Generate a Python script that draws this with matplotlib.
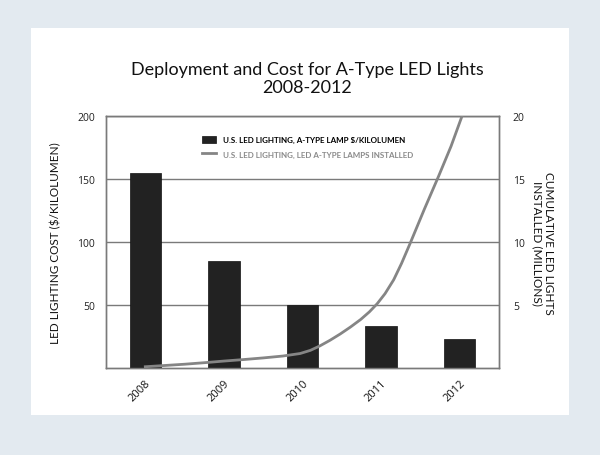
import matplotlib
matplotlib.use("Agg")
from matplotlib import pyplot as plt
from matplotlib.patches import Rectangle

years = ["2008", "2009", "2010", "2011", "2012"]
cost = [155, 85, 50, 33, 23]

# cumulative installs (millions) (x in year index)
curve_x = [0, 0.25, 0.5, 0.75, 1, 1.25, 1.5, 1.75, 1.97, 2.1, 2.22, 2.35, 2.48,
           2.61, 2.74, 2.85, 2.95, 3.05, 3.16, 3.26, 3.37, 3.55, 3.73, 3.89,
           4.03, 4.06]
curve_y = [0.1, 0.2, 0.3, 0.42, 0.55, 0.67, 0.8, 0.95, 1.15, 1.4, 1.75, 2.2,
           2.7, 3.25, 3.85, 4.45, 5.1, 5.9, 7.0, 8.3, 9.9, 12.6, 15.2, 17.6,
           20.0, 20.5]

plt.rcParams["font.family"] = ["Lato", "DejaVu Sans"]

fig = plt.figure(figsize=(6, 4.56), dpi=100)
fig.patch.set_facecolor("#e3eaf0")
fig.patches.append(Rectangle((31 / 600, 1 - 416 / 456), 538 / 600, 387 / 456,
                             transform=fig.transFigure, facecolor="white",
                             edgecolor="none", zorder=-5))

ax = fig.add_axes([106 / 600, 1 - 369 / 456, 393 / 600, 252 / 456])
ax.set_facecolor("white")
ax2 = ax.twinx()

xs = range(len(years))
ax.bar(xs, cost, width=0.4, color="#222222", edgecolor="#111111", linewidth=0.5,
       zorder=3, label="U.S. LED LIGHTING, A-TYPE LAMP $/KILOLUMEN")
ax.set_ylim(0, 200)
ax.set_xlim(-0.5, 4.5)
ax.set_yticks([50, 100, 150, 200])
ax.grid(axis="y", color="#7a7a7a", linewidth=1, zorder=0)
ax.set_xticks(list(xs))
ax.set_xticklabels(years, rotation=45, ha="right", rotation_mode="anchor",
                   fontsize=8, color="#111111", family=["Open Sans", "DejaVu Sans"])
ax.tick_params(length=0, pad=7)
ax.tick_params(axis="y", labelsize=7.5, labelcolor="#222222", pad=8)
for lab in ax.get_yticklabels():
    lab.set_family(["Open Sans", "DejaVu Sans"])

ax2.plot(curve_x, curve_y, color="#858585", linewidth=2, zorder=4,
         solid_joinstyle="round",
         label="U.S. LED LIGHTING, LED A-TYPE LAMPS INSTALLED")
ax2.set_ylim(0, 20)
ax2.set_yticks([5, 10, 15, 20])
ax2.tick_params(length=0, labelsize=7.5, labelcolor="#222222", pad=10)
for lab in ax2.get_yticklabels():
    lab.set_family(["Open Sans", "DejaVu Sans"])

for a in (ax, ax2):
    for s in a.spines.values():
        s.set_color("#7a7a7a")
        s.set_linewidth(1)

ax.set_ylabel("LED LIGHTING COST ($/KILOLUMEN)", fontsize=8.5, color="#111111",
              labelpad=11)
ax2.set_ylabel("CUMULATIVE LED LIGHTS\nINSTALLED (MILLIONS)", fontsize=8.5,
               color="#111111", rotation=270, labelpad=21, linespacing=1.0)

fig.text(307 / 600, 1 - 79 / 456, "Deployment and Cost for A-Type LED Lights\n2008-2012",
         ha="center", va="center", fontsize=13, color="#111111", linespacing=1.1)

h1, l1 = ax.get_legend_handles_labels()
h2, l2 = ax2.get_legend_handles_labels()
leg = ax.legend(h1 + h2, l1 + l2, loc="upper left", bbox_to_anchor=(0.225, 0.95),
                frameon=False, handlelength=1.8, handleheight=0.9,
                labelspacing=0.9, prop={"weight": "bold", "size": 5.8})
leg.get_texts()[1].set_color("#8a8a8a")
leg.set_zorder(10)

fig.savefig("out.png", dpi=100, facecolor=fig.get_facecolor())
